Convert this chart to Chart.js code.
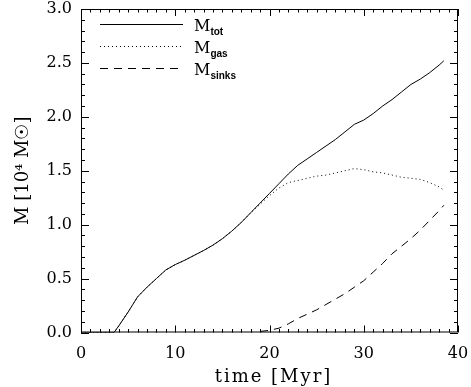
<!DOCTYPE html>
<html>
<head>
<meta charset="utf-8">
<script src="https://cdn.jsdelivr.net/npm/chart.js@4.4.1/dist/chart.umd.min.js"></script>
<style>
  body { margin: 0; background: #fff; }
  #wrap { width: 471px; height: 387px; }
</style>
</head>
<body>
<div id="wrap"><canvas id="chart" width="471" height="387"></canvas></div>
<script>
// time in Myr
const time = [0, 1, 2, 3, 3.5, 4, 5, 6, 7, 8, 9, 10, 11, 12, 13, 14, 15, 16, 17, 18, 19, 20,
  21, 22, 23, 24, 25, 26, 27, 28, 29, 30, 31, 32, 33, 34, 35, 36, 37, 38, 38.5];

// masses in 10^4 Msun
const mTot = [0, 0, 0, 0, 0, 0.06, 0.19, 0.33, 0.42, 0.50, 0.58, 0.63, 0.67, 0.715, 0.76, 0.81, 0.87, 0.94, 1.02, 1.11, 1.20, 1.29,
  1.38, 1.47, 1.55, 1.61, 1.67, 1.73, 1.79, 1.86, 1.93, 1.97, 2.03, 2.10, 2.16, 2.23, 2.30, 2.35, 2.41, 2.48, 2.52];
const mGas = [0, 0, 0, 0, 0, 0.06, 0.19, 0.33, 0.42, 0.50, 0.58, 0.63, 0.67, 0.715, 0.76, 0.81, 0.87, 0.94, 1.02, 1.11, 1.19, 1.27,
  1.34, 1.39, 1.41, 1.43, 1.45, 1.46, 1.48, 1.50, 1.52, 1.51, 1.49, 1.48, 1.46, 1.44, 1.43, 1.42, 1.39, 1.35, 1.32];
const mSinks = [null, null, null, null, null, null, null, null, null, null, null, null, null, null, null, null, null, null, null, null, 0.01, 0.02,
  0.04, 0.08, 0.13, 0.17, 0.21, 0.26, 0.31, 0.36, 0.42, 0.48, 0.56, 0.64, 0.73, 0.80, 0.87, 0.95, 1.04, 1.13, 1.18];

const xTicks = [0, 10, 20, 30, 40];
const yTicks = [0, 0.5, 1, 1.5, 2, 2.5, 3];

const legendNames = ["tot", "gas", "sinks"];
const dashes = [[], [1, 3], [8, 6]];

const pts = arr => time.map((t, i) => ({ x: t, y: arr[i] }));
const serif = "'DejaVu Serif', serif";

// box + inward ticks on all four sides, IDL style
const frame = {
  id: "frame",
  afterDraw(chart) {
    const { ctx, chartArea: a, scales: { x, y } } = chart;
    ctx.save();
    ctx.strokeStyle = "#000";
    ctx.lineWidth = 1;
    ctx.strokeRect(a.left + 0.5, a.top + 0.5, a.right - a.left - 1, a.bottom - a.top - 1);
    ctx.beginPath();
    for (let i = 0; i <= 40; i++) {
      const px = Math.round(x.getPixelForValue(i)) + 0.5;
      const len = i % 10 === 0 ? 7 : 3.5;
      ctx.moveTo(px, a.bottom); ctx.lineTo(px, a.bottom - len);
      ctx.moveTo(px, a.top); ctx.lineTo(px, a.top + len);
    }
    for (let i = 0; i <= 30; i++) {
      const py = Math.round(y.getPixelForValue(i / 10)) + 0.5;
      const len = i % 5 === 0 ? 8 : 4;
      ctx.moveTo(a.left, py); ctx.lineTo(a.left + len, py);
      ctx.moveTo(a.right, py); ctx.lineTo(a.right - len, py);
    }
    ctx.stroke();

    // x title, a bit spaced out like the original
    ctx.fillStyle = "#000";
    ctx.font = "18px " + serif;
    ctx.letterSpacing = "2px";
    ctx.textAlign = "center";
    ctx.textBaseline = "middle";
    ctx.fillText("time [Myr]", (a.left + a.right) / 2 + 4, 377);
    ctx.letterSpacing = "0px";
    ctx.textAlign = "left";

    // legend with subscripts
    const x0 = a.left + 19, x1 = a.left + 102;
    legendNames.forEach((name, i) => {
      const ly = a.top + 15.5 + i * 22;
      ctx.setLineDash(dashes[i]);
      ctx.beginPath();
      ctx.moveTo(x0, ly); ctx.lineTo(x1, ly);
      ctx.stroke();
      ctx.setLineDash([]);
      ctx.textBaseline = "alphabetic";
      ctx.font = "16px " + serif;
      ctx.fillText("M", x1 + 11, ly + 6);
      const w = ctx.measureText("M").width;
      ctx.font = "bold 10px 'Liberation Sans', sans-serif";
      ctx.fillText(name, x1 + 11 + w, ly + 10);
    });
    ctx.restore();
  }
};

new Chart(document.getElementById("chart"), {
  type: "line",
  data: {
    datasets: [
      { data: pts(mTot), borderColor: "#000", borderWidth: 1, pointRadius: 0, tension: 0 },
      { data: pts(mGas), borderColor: "#000", borderWidth: 1, borderDash: dashes[1], pointRadius: 0, tension: 0 },
      { data: pts(mSinks), borderColor: "#000", borderWidth: 1, borderDash: dashes[2], pointRadius: 0, tension: 0 }
    ]
  },
  options: {
    responsive: false,
    animation: false,
    layout: { padding: { top: 9, right: 13, left: 0, bottom: 0 } },
    plugins: { legend: { display: false }, tooltip: { enabled: false } },
    scales: {
      x: {
        type: "linear",
        min: 0,
        max: 40,
        grid: { display: false, drawTicks: false },
        border: { display: false },
        afterBuildTicks: s => { s.ticks = xTicks.map(v => ({ value: v })); },
        afterFit: s => { s.height = 54.5; s.paddingLeft = 0; s.paddingRight = 0; },
        ticks: { color: "#000", font: { family: serif, size: 16 }, padding: 12, maxRotation: 0 }
      },
      y: {
        min: 0,
        max: 3,
        grid: { display: false, drawTicks: false },
        border: { display: false },
        afterBuildTicks: s => { s.ticks = yTicks.map(v => ({ value: v })); },
        afterFit: s => { s.width = 81; s.paddingTop = 0; s.paddingBottom = 0; },
        ticks: { color: "#000", font: { family: serif, size: 16 }, padding: 9, callback: v => v.toFixed(1) },
        title: { display: true, text: "M [10⁴ M☉]", color: "#000", font: { family: serif, size: 18 }, padding: { top: 13 } }
      }
    }
  },
  plugins: [frame]
});
</script>
</body>
</html>
